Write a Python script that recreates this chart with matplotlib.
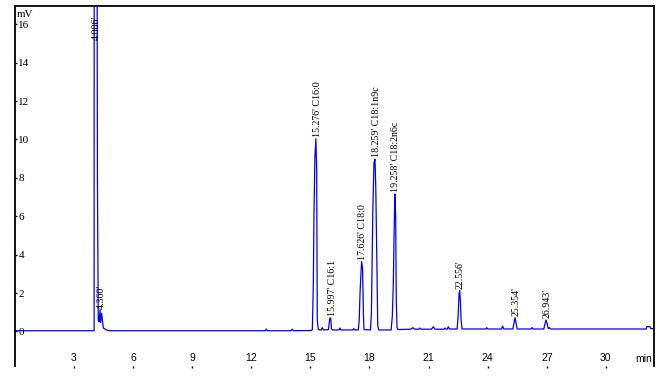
"""
plot.py - GC chromatogram (fatty acid methyl esters), redrawn from a screenshot.
Saves out.png.
"""
import matplotlib
matplotlib.use("Agg")
import matplotlib.pyplot as plt

# --- Trace -------------------------------------------------------------------
time_min = [0.00, 4.02, 4.03, 4.14, 4.19, 4.23, 4.27, 4.32, 4.35, 4.40, 4.49, 4.66, 4.80,
            12.70, 12.76, 12.82, 14.02, 14.08, 14.14,
            15.05, 15.10, 15.15, 15.18, 15.23, 15.28, 15.32, 15.35, 15.40,
            15.55, 15.60, 15.66, 15.92, 15.95, 15.99, 16.03, 16.07, 16.12,
            16.45, 16.50, 16.55, 17.15, 17.20, 17.25,
            17.43, 17.48, 17.52, 17.60, 17.65, 17.69, 17.72,
            18.05, 18.10, 18.17, 18.23, 18.28, 18.32, 18.37, 18.42, 18.47,
            19.10, 19.16, 19.21, 19.25, 19.29, 19.33, 19.36, 19.40, 19.45,
            20.10, 20.20, 20.30, 20.50, 20.55, 20.60, 21.15, 21.24, 21.32,
            21.78, 21.83, 21.90, 21.95, 22.00, 22.06,
            22.45, 22.50, 22.55, 22.58, 22.62, 22.65, 22.70,
            23.90, 23.95, 24.00, 24.70, 24.76, 24.82,
            25.28, 25.33, 25.39, 25.44, 25.50, 26.20, 26.26, 26.32,
            26.85, 26.90, 26.96, 27.02, 27.08, 27.13, 27.20,
            32.05, 32.08, 32.24, 32.28, 32.46]
signal_mv = [0.04, 0.04, 40.0, 40.0, 7.9, 0.6, 0.5, 1.12, 0.46, 0.95, 0.18, 0.08, 0.04,
             0.04, 0.12, 0.04, 0.04, 0.12, 0.04,
             0.05, 0.10, 2.5, 5.9, 9.1, 10.03, 8.4, 0.6, 0.10,
             0.08, 0.20, 0.08, 0.10, 0.40, 0.70, 0.70, 0.15, 0.08,
             0.08, 0.18, 0.08, 0.08, 0.15, 0.08,
             0.08, 0.6, 2.0, 3.64, 3.3, 1.0, 0.10,
             0.08, 1.0, 6.3, 8.8, 8.97, 7.5, 4.0, 0.3, 0.08,
             0.08, 0.8, 2.5, 5.1, 7.16, 6.0, 1.6, 0.2, 0.10,
             0.12, 0.20, 0.12, 0.12, 0.18, 0.12, 0.12, 0.25, 0.12,
             0.12, 0.18, 0.12, 0.12, 0.25, 0.13,
             0.13, 0.8, 2.0, 2.13, 1.5, 0.6, 0.13,
             0.13, 0.20, 0.13, 0.13, 0.28, 0.13,
             0.13, 0.40, 0.72, 0.45, 0.13, 0.13, 0.20, 0.13,
             0.13, 0.35, 0.60, 0.40, 0.15, 0.20, 0.13,
             0.13, 0.25, 0.25, 0.15, 0.15]

# --- Peak labels ---------------------------------------------------------------
peak_rt = [4.006, 4.360, 15.276, 15.997, 17.626, 18.259, 19.258, 22.556, 25.354, 26.943]
peak_name = ["", "", "C16:0", "C16:1", "C18:0", "C18:1n9c", "C18:2n6c", "", "", ""]
apex_t = [4.10, 4.35, 15.31, 16.06, 17.60, 18.31, 19.29, 22.58, 25.39, 26.96]
apex_mv = [40.0, 1.05, 10.03, 0.72, 3.64, 8.97, 7.16, 2.13, 0.72, 0.60]

x_ticks = [3, 6, 9, 12, 15, 18, 21, 24, 27, 30]
y_ticks = [0, 2, 4, 6, 8, 10, 12, 14, 16]

SERIF = "Liberation Serif"
SANS = "Liberation Sans"

fig = plt.figure(figsize=(6.68, 3.81), dpi=100)
ax = fig.add_axes([0.0232, 0.0402, 0.9563, 0.9441])
ax.plot(time_min, signal_mv, color="#0000FF", lw=0.9)
ax.set_xlim(0.03, 32.46)
ax.set_ylim(-1.78, 16.95)

# labels above each apex; the off-scale solvent peak gets its label near the top
for rt, name, t, h in zip(peak_rt, peak_name, apex_t, apex_mv):
    txt = f"{rt:.3f}'" + (f" {name}" if name else "")
    ax.annotate(txt, (t, min(h, 15.05)), xytext=(0.6, 1.5), textcoords="offset points",
                rotation=90, ha="center", va="bottom", fontsize=7.2, family=SERIF)

# --- Axes styling ------------------------------------------------------------
for side in ["left", "top", "right"]:
    ax.spines[side].set_linewidth(1.3)
ax.spines["bottom"].set_visible(False)

ax.set_xticks(x_ticks)
ax.set_yticks(y_ticks)
ax.tick_params(axis="x", direction="out", length=1.2, width=1, pad=-10.2,
               labelsize=7.5)
ax.tick_params(axis="y", direction="in", length=1.2, width=1, pad=-2,
               labelsize=8)
for lbl in ax.get_xticklabels():
    lbl.set_family(SANS)
for lbl in ax.get_yticklabels():
    lbl.set_family(SERIF)
    lbl.set_ha("left")

ax.text(0.002, 0.988, "mV", transform=ax.transAxes, ha="left", va="top",
        fontsize=7.8, family=SERIF)
ax.text(0.997, 0.004, "min", transform=ax.transAxes, ha="right", va="bottom",
        fontsize=7.5, family=SANS)

fig.savefig("out.png", dpi=100)
